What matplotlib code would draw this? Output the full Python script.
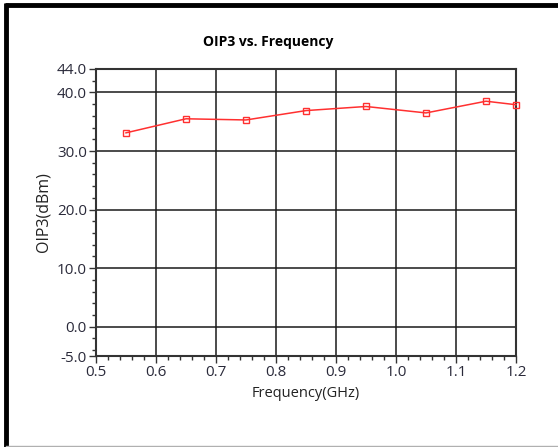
import matplotlib
matplotlib.use("Agg")
import matplotlib.pyplot as plt
from matplotlib.ticker import FixedLocator, MultipleLocator, FormatStrFormatter
from matplotlib.lines import Line2D

freq = [0.55, 0.65, 0.75, 0.85, 0.95, 1.05, 1.15, 1.2]
oip3 = [33.1, 35.5, 35.3, 36.9, 37.6, 36.5, 38.5, 37.9]
x_ticks = [0.5, 0.6, 0.7, 0.8, 0.9, 1.0, 1.1, 1.2]
y_ticks = [-5.0, 0.0, 10.0, 20.0, 30.0, 40.0, 44.0]
y_grid = [0.0, 10.0, 20.0, 30.0, 40.0]

plt.rcParams['font.family'] = ['Open Sans', 'DejaVu Sans']

W, H = 558, 447
fig = plt.figure(figsize=(W / 100, H / 100), dpi=100)
fig.patch.set_facecolor('white')

# outer frame lines
fig.add_artist(Line2D([6 / W, 6 / W], [0, 1 - 3 / H], transform=fig.transFigure,
                      color='black', lw=3.5, solid_capstyle='butt'))
fig.add_artist(Line2D([4.5 / W, 1], [1 - 5 / H, 1 - 5 / H], transform=fig.transFigure,
                      color='black', lw=3.5, solid_capstyle='butt'))
fig.add_artist(Line2D([6 / W, 1], [1.2 / H, 1.2 / H], transform=fig.transFigure,
                      color='#b0b0b0', lw=1.0))

left, right, top, bottom = 96, 516, 69, 356
ax = fig.add_axes([left / W, 1 - bottom / H, (right - left) / W, (bottom - top) / H])

ax.set_xlim(0.5, 1.2)
ax.set_ylim(-5, 44)

ax.xaxis.set_major_locator(FixedLocator(x_ticks))
ax.xaxis.set_minor_locator(MultipleLocator(0.02))
ax.yaxis.set_major_locator(FixedLocator(y_ticks))
ax.yaxis.set_minor_locator(MultipleLocator(2))
ax.xaxis.set_major_formatter(FormatStrFormatter('%.1f'))
ax.yaxis.set_major_formatter(FormatStrFormatter('%.1f'))

for xv in x_ticks[1:-1]:
    ax.axvline(xv, color='#1a1a1a', lw=1.1, zorder=1)
for yv in y_grid:
    ax.axhline(yv, color='#1a1a1a', lw=1.1, zorder=1)

ax.plot(freq, oip3, color='#ff3030', lw=1.1, marker='s', markersize=5,
        markerfacecolor='none', markeredgecolor='#ff3030', markeredgewidth=1.0,
        zorder=3, clip_on=False)

for s in ax.spines.values():
    s.set_color('#333333')
    s.set_linewidth(1.5)

ax.tick_params(axis='both', which='major', direction='out', length=5, width=1,
               color='#333333', labelsize=11, labelcolor='#2a2a3a', pad=1.5)
ax.tick_params(axis='both', which='minor', direction='out', length=3, width=1,
               color='#333333')

ax.set_xlabel('Frequency(GHz)', fontsize=10.5, color='#222222', labelpad=4)
ax.set_ylabel('OIP3(dBm)', fontsize=11.5, color='#222222', labelpad=4)

fig.text(268 / W, 1 - 42 / H, 'OIP3 vs. Frequency', ha='center', va='center',
         fontsize=10, fontweight='bold', color='black')

fig.savefig('out.png', dpi=100, facecolor='white')
